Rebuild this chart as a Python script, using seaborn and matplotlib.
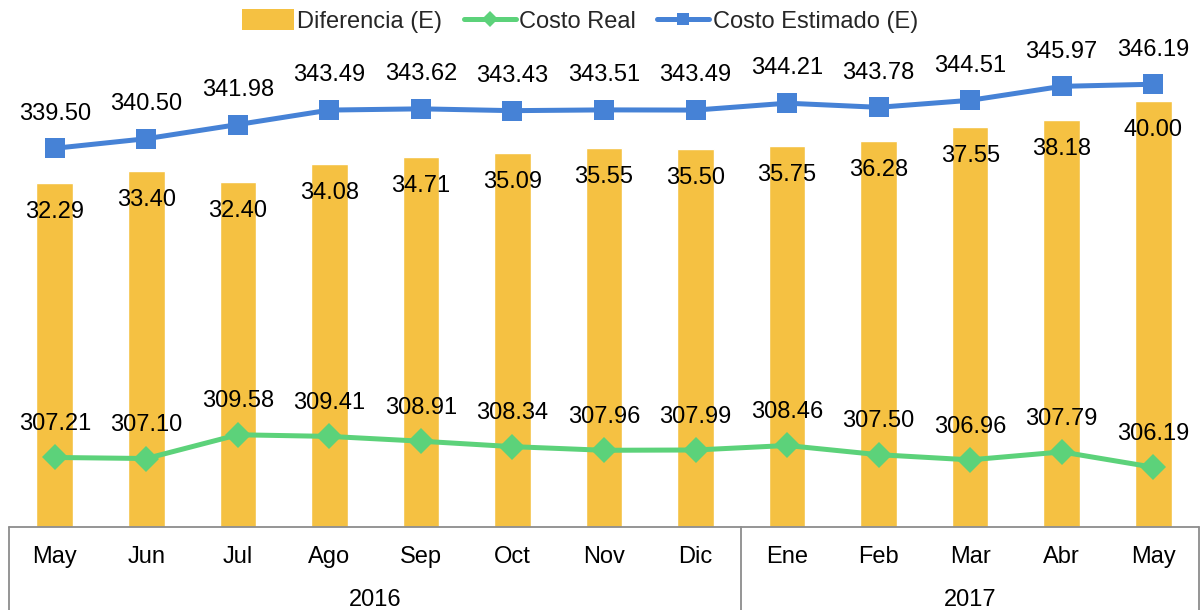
import matplotlib
matplotlib.use("Agg")
import matplotlib.pyplot as plt
import seaborn as sns
import numpy as np
import pandas as pd
from matplotlib.lines import Line2D
from matplotlib.patches import Patch

months = ["May", "Jun", "Jul", "Ago", "Sep", "Oct", "Nov", "Dic",
          "Ene", "Feb", "Mar", "Abr", "May"]
years = ["2016", "2017"]
year_counts = [8, 5]
diferencia = [32.29, 33.40, 32.40, 34.08, 34.71, 35.09, 35.55, 35.50,
              35.75, 36.28, 37.55, 38.18, 40.00]
costo_real = [307.21, 307.10, 309.58, 309.41, 308.91, 308.34, 307.96, 307.99,
              308.46, 307.50, 306.96, 307.79, 306.19]
costo_estimado = [339.50, 340.50, 341.98, 343.49, 343.62, 343.43, 343.51, 343.49,
                  344.21, 343.78, 344.51, 345.97, 346.19]

C_BAR = "#F5C142"
C_REAL = "#5CD27A"
C_EST = "#4682D6"
FS = 17

sns.set_theme(style="white")
plt.rcParams['font.family'] = ['Liberation Sans', 'DejaVu Sans']

W, H = 1203, 610
fig = plt.figure(figsize=(W / 100, H / 100), dpi=100)
ax_left, ax_right = 9, 1199
ax_bottom, ax_top = 526.5, 47.75
ax = fig.add_axes([ax_left / W, (H - ax_bottom) / H,
                   (ax_right - ax_left) / W, (ax_bottom - ax_top) / H])

n = len(months)
x = np.arange(n)
df = pd.DataFrame({"x": x, "dif": diferencia, "real": costo_real, "est": costo_estimado})

sns.barplot(data=df, x="x", y="dif", color=C_BAR, width=0.4, ax=ax,
            saturation=1, native_scale=True, zorder=1)
ax.set_ylim(0, 45)
ax.set_xlim(-0.5, n - 0.5)

ax2 = ax.twinx()
sns.lineplot(data=df, x="x", y="est", color=C_EST, lw=3.6, marker="s",
             markersize=14, markeredgewidth=0, ax=ax2, zorder=3)
sns.lineplot(data=df, x="x", y="real", color=C_REAL, lw=3.6, marker="D",
             markersize=13, markeredgewidth=0, ax=ax2, zorder=3)
ax2.set_ylim(300, 350)
ax2.set_xlim(-0.5, n - 0.5)

for a in (ax, ax2):
    a.set_ylabel("")
    a.set_xlabel("")
    a.set_yticks([])
    for s in ["top", "left", "right", "bottom"]:
        a.spines[s].set_visible(False)
    a.grid(False)

# labels
for i, v in enumerate(diferencia):
    ax.annotate(f"{v:.2f}", (i, v), xytext=(0, -21), textcoords="offset points",
                ha="center", va="center", fontsize=FS, color="black", zorder=5)
for i, v in enumerate(costo_estimado):
    ax2.annotate(f"{v:.2f}", (i, v), xytext=(0, 25), textcoords="offset points",
                 ha="center", va="center", fontsize=FS, color="black")
for i, v in enumerate(costo_real):
    ax2.annotate(f"{v:.2f}", (i, v), xytext=(0, 24), textcoords="offset points",
                 ha="center", va="center", fontsize=FS, color="black")

# x axis: months
ax.set_xticks(x)
ax.set_xticklabels([])
ax2.set_xticks([])
ax.tick_params(axis="x", length=0)
for i, m in enumerate(months):
    fig.text((ax_left + (i + 0.5) * (ax_right - ax_left) / n) / W, 1 - 557 / H, m,
             ha="center", va="center", fontsize=FS, color="black")

# axis frame lines
grey = "#8C8C8C"
fig.add_artist(Line2D([ax_left / W, ax_right / W], [1 - ax_bottom / H] * 2,
                      color=grey, lw=1.3))
pos = 0
bounds = [0]
for c in year_counts:
    pos += c
    bounds.append(pos)
for b in bounds:
    xp = (ax_left + b * (ax_right - ax_left) / n) / W
    fig.add_artist(Line2D([xp, xp], [1 - ax_bottom / H, 0], color=grey, lw=1.3))
for k, yr in enumerate(years):
    mid = (bounds[k] + bounds[k + 1]) / 2
    xp = (ax_left + mid * (ax_right - ax_left) / n) / W
    fig.text(xp, 1 - 600 / H, yr, ha="center", va="center", fontsize=FS, color="black")

handles = [Patch(facecolor=C_BAR, edgecolor="none"),
           Line2D([], [], color=C_REAL, lw=3.6, marker="D", markersize=8, markeredgewidth=0),
           Line2D([], [], color=C_EST, lw=3.6, marker="s", markersize=9, markeredgewidth=0)]
labels = ["Diferencia (E)", "Costo Real", "Costo Estimado (E)"]
fig.legend(handles, labels, loc="center", bbox_to_anchor=(580 / W, 1 - 21 / H),
           ncol=3, frameon=False, fontsize=FS, handlelength=2.2, handleheight=1.0,
           handletextpad=0.15, columnspacing=0.9, borderaxespad=0)

fig.savefig("out.png", dpi=100)
